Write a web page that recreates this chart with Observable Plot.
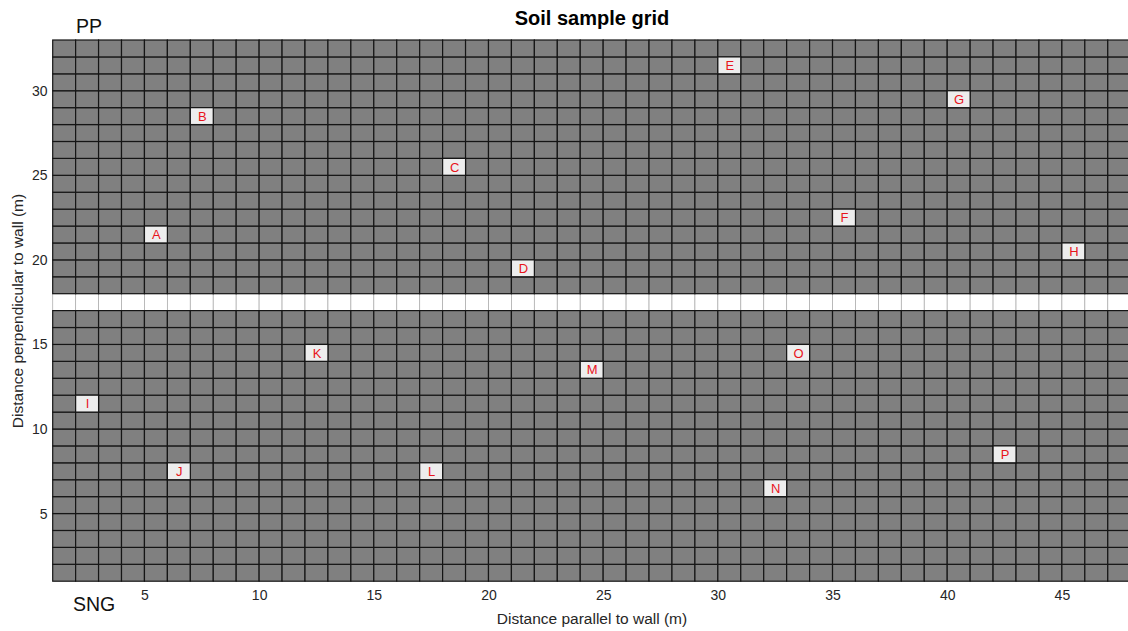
<!DOCTYPE html>
<html>
<head>
<meta charset="utf-8">
<script src="https://cdn.jsdelivr.net/npm/d3@7"></script>
<script src="https://cdn.jsdelivr.net/npm/@observablehq/plot@0.6"></script>
<style>
  html, body { margin: 0; padding: 0; background: #fff; overflow: hidden; }
  #wrap { position: relative; width: 1128px; height: 631px; font-family: "Liberation Sans", Arial, sans-serif; }
  .ov { position: absolute; white-space: nowrap; line-height: 1; }
</style>
</head>
<body>
<div id="wrap"></div>
<script>
// ---- data ----
const gridX = [1, 48];          // extent of grid columns (m)
const gridY = [1, 33];          // extent of grid rows (m)
const gapRow = 17;              // the white separating row (17–18 m)
const xTicks = [5, 10, 15, 20, 25, 30, 35, 40, 45];
const yTicks = [5, 10, 15, 20, 25, 30];
const sampleNames = ["A","B","C","D","E","F","G","H","I","J","K","L","M","N","O","P"];
const sampleX =     [ 5,  7, 18, 21, 30, 35, 40, 45,  2,  6, 12, 17, 24, 32, 33, 42];
const sampleY =     [21, 28, 25, 19, 31, 22, 29, 20, 11,  7, 14,  7, 13,  6, 14,  8];

// ---- build cell table from the grid extent ----
const cols = d3.range(gridX[0], gridX[1]);
const rows = d3.range(gridY[0], gridY[1]);
const cells = [];
for (const r of rows) for (const c of cols) cells.push({x: c, y: r, gap: r === gapRow});
const samples = sampleNames.map((n, i) => ({name: n, x: sampleX[i], y: sampleY[i]}));

const chart = Plot.plot({
  width: 1128,
  height: 631,
  marginLeft: 53,
  marginRight: 0,
  marginTop: 40,
  marginBottom: 50,
  style: {fontFamily: '"Liberation Sans", Arial, sans-serif', fontSize: "14px", overflow: "hidden", background: "white"},
  x: {domain: gridX, range: [52.7, 1130.7]},
  y: {domain: gridY, range: [581.2, 40]},
  marks: [
    Plot.rect(cells.filter(d => d.gap), {x1: "x", x2: d => d.x + 1, y1: "y", y2: d => d.y + 1, fill: "white", stroke: "#b0b0b0", strokeWidth: 0.8, inset: 0}),
    Plot.rect(cells.filter(d => !d.gap), {x1: "x", x2: d => d.x + 1, y1: "y", y2: d => d.y + 1, fill: "#808080", stroke: "#151515", strokeWidth: 1.2, inset: 0}),
    Plot.rect(samples, {x1: "x", x2: d => d.x + 1, y1: "y", y2: d => d.y + 1, fill: "#ededed", stroke: "#151515", strokeWidth: 1.2, inset: 0}),
    Plot.text(samples, {x: d => d.x + 0.5, y: d => d.y + 0.5, text: "name", fill: "#e8141c", fontSize: 13}),
    Plot.axisX({ticks: xTicks, tickSize: 0, tickPadding: 9, fontSize: 14, color: "#262626", label: null}),
    Plot.axisY({ticks: yTicks, tickSize: 0, tickPadding: 6, fontSize: 14, color: "#262626", label: null})
  ]
});

const wrap = document.getElementById("wrap");
wrap.appendChild(chart);

function overlay(text, css) {
  const d = document.createElement("div");
  d.className = "ov";
  d.textContent = text;
  Object.assign(d.style, css);
  wrap.appendChild(d);
}
overlay("Soil sample grid", {left: "592px", top: "8px", transform: "translateX(-50%)", fontWeight: "bold", fontSize: "20px", color: "#000"});
overlay("PP", {left: "76px", top: "17px", fontSize: "19.5px", color: "#111"});
overlay("SNG", {left: "73px", top: "595px", fontSize: "19.5px", color: "#111"});
overlay("Distance parallel to wall (m)", {left: "592px", top: "611px", transform: "translateX(-50%)", fontSize: "15.5px", color: "#262626"});
overlay("Distance perpendicular to wall (m)", {left: "18px", top: "311px", transform: "translate(-50%,-50%) rotate(-90deg)", fontSize: "15.5px", color: "#262626"});
</script>
</body>
</html>
